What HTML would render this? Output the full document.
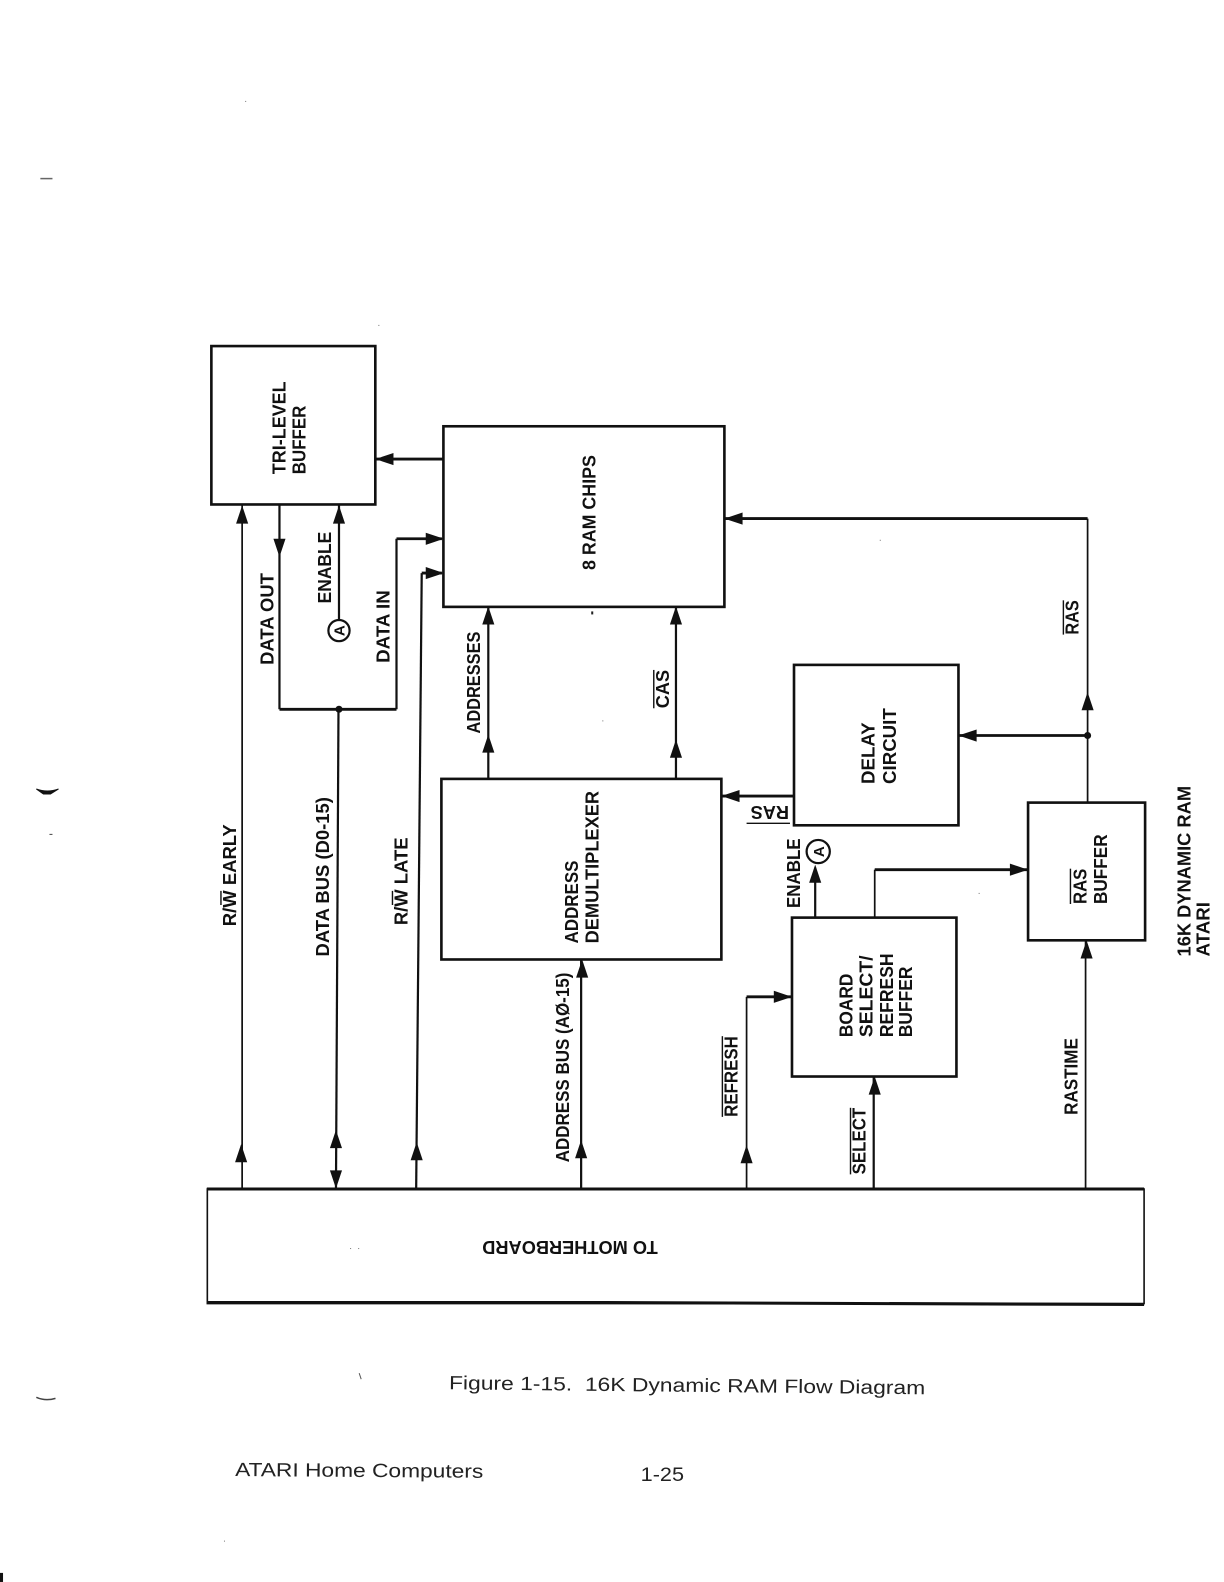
<!DOCTYPE html>
<html><head><meta charset="utf-8"><style>
html,body{margin:0;padding:0;background:#fff}
svg{display:block}
.t{font-family:"Liberation Sans",sans-serif;font-weight:bold;font-size:18px;fill:#111}
.c{font-family:"Liberation Sans",sans-serif;font-size:19px;fill:#222}
.b{fill:none;stroke:#111;stroke-width:2.6}
.l{fill:none;stroke:#111;stroke-width:2.2}
.h{fill:none;stroke:#111;stroke-width:2.8}
.n{fill:none;stroke:#111;stroke-width:1.7}
.o{stroke:#111;stroke-width:1.4}
</style></head><body>
<svg xmlns="http://www.w3.org/2000/svg" width="1224" height="1582" viewBox="0 0 1213.2 1568">
<defs>
<polygon id="u" points="0,0 -6,18 6,18" fill="#111"/>
<polygon id="d" points="0,0 -6,-18 6,-18" fill="#111"/>
<polygon id="a" points="0,0 18,-6 18,6" fill="#111"/>
<polygon id="r" points="0,0 -18,-6 -18,6" fill="#111"/>
</defs>
<rect width="1214" height="1568" fill="#fff"/>

<!-- boxes -->
<rect class="b" x="209.500" y="343" width="162.500" height="157"/>
<rect class="b" x="439.500" y="422.500" width="278.500" height="179"/>
<rect class="b" x="437.500" y="772" width="277.500" height="179"/>
<rect class="b" x="787" y="659" width="163" height="159"/>
<rect class="b" x="785" y="909.500" width="163" height="157.500"/>
<rect class="b" x="1019" y="795.500" width="116" height="136.500"/>
<path d="M205.500 1178.500H1134V1292H205.500Z" fill="none" stroke="#111" stroke-width="1.600"/>
<path d="M205 1178.500H1134M205 1291H600L1134 1293" fill="none" stroke="#111" stroke-width="3"/>

<!-- connectors -->
<path class="n" d="M240 1178V500"/>
<use href="#u" x="240" y="501"/><use href="#u" x="239" y="1134"/>
<path class="l" d="M277 500V703"/>
<path class="h" d="M277 703H393"/>
<path class="l" d="M393 703V534"/>
<path class="h" d="M393 534H438"/>
<use href="#d" x="277" y="552"/><use href="#r" x="440" y="534"/>
<circle cx="336" cy="703" r="3.500" fill="#111"/>
<path class="l" d="M335.500 703L333 1178"/>
<use href="#u" x="333" y="1120"/><use href="#d" x="333" y="1178"/>
<path class="l" d="M336 614V500"/>
<use href="#u" x="336" y="501"/>
<circle cx="336" cy="625" r="10.500" fill="#fff" stroke="#111" stroke-width="2.200"/>
<text class="t" style="font-size:15px" x="330.500" y="630.500" transform="rotate(-90 336 625)">A</text>
<path class="l" d="M412.500 1178L418 568"/>
<path class="h" d="M418 568H438"/>
<use href="#u" x="413" y="1132"/><use href="#r" x="440" y="568"/>
<path class="h" d="M440 455H373"/>
<use href="#a" x="372" y="455"/>
<path class="l" d="M484 772V601"/>
<use href="#u" x="484" y="601"/><use href="#u" x="484" y="728"/>
<path class="l" d="M670 772V601"/>
<use href="#u" x="670" y="601"/><use href="#u" x="670" y="733"/>
<path class="n" d="M1078 795V514"/>
<path class="h" d="M1078 514H719"/>
<use href="#a" x="718" y="514"/><use href="#u" x="1078" y="686"/>
<path class="h" d="M1078 729H951"/>
<circle cx="1078" cy="729" r="3.500" fill="#111"/>
<use href="#a" x="950" y="729"/>
<path class="h" d="M787 789H716"/>
<use href="#a" x="715" y="789"/>
<path class="l" d="M808 909V860"/>
<use href="#u" x="808" y="857"/>
<circle cx="811" cy="844" r="11.500" fill="#fff" stroke="#111" stroke-width="2.200"/>
<text class="t" style="font-size:15px" x="805.500" y="849.500" transform="rotate(-90 811 844)">A</text>
<path class="n" d="M867 909V862"/>
<path class="h" d="M867 862H1018"/>
<use href="#r" x="1019" y="862"/>
<path class="n" d="M740 1178V988"/>
<path class="h" d="M740 988H784"/>
<use href="#r" x="785" y="988"/><use href="#u" x="740" y="1135"/>
<path class="l" d="M866 1178V1068"/>
<use href="#u" x="867" y="1067"/>
<path class="l" d="M576 1178V952"/>
<use href="#u" x="577" y="951"/><use href="#u" x="576" y="1130"/>
<path class="n" d="M1076 1178V933"/>
<use href="#u" x="1077" y="932"/>

<!-- rotated labels -->
<text class="t" transform="translate(283,470) rotate(-90)" textLength="92" lengthAdjust="spacingAndGlyphs">TRI-LEVEL</text>
<text class="t" transform="translate(303,470) rotate(-90)" textLength="68" lengthAdjust="spacingAndGlyphs">BUFFER</text>
<text class="t" transform="translate(590,565) rotate(-90)" textLength="114" lengthAdjust="spacingAndGlyphs">8 RAM CHIPS</text>
<text class="t" transform="translate(328,598) rotate(-90)" textLength="71" lengthAdjust="spacingAndGlyphs">ENABLE</text>
<text class="t" transform="translate(271,659) rotate(-90)" textLength="91" lengthAdjust="spacingAndGlyphs">DATA OUT</text>
<text class="t" transform="translate(386,657) rotate(-90)" textLength="72" lengthAdjust="spacingAndGlyphs">DATA IN</text>
<text class="t" transform="translate(476,727) rotate(-90)" textLength="101" lengthAdjust="spacingAndGlyphs">ADDRESSES</text>
<text class="t" transform="translate(663,702) rotate(-90)" textLength="38" lengthAdjust="spacingAndGlyphs">CAS</text>
<path class="o" d="M648 702V664"/>
<text class="t" transform="translate(234,918) rotate(-90)" textLength="101" lengthAdjust="spacingAndGlyphs">R/W EARLY</text>
<path class="o" d="M219 897V883"/>
<text class="t" transform="translate(326,948) rotate(-90)" textLength="158" lengthAdjust="spacingAndGlyphs">DATA BUS (D0-15)</text>
<text class="t" transform="translate(404,917) rotate(-90)" textLength="87" lengthAdjust="spacingAndGlyphs">R/W LATE</text>
<path class="o" d="M389 897V883"/>
<text class="t" transform="translate(573,935) rotate(-90)" textLength="82" lengthAdjust="spacingAndGlyphs">ADDRESS</text>
<text class="t" transform="translate(593,935) rotate(-90)" textLength="151" lengthAdjust="spacingAndGlyphs">DEMULTIPLEXER</text>
<text class="t" transform="translate(564,1152) rotate(-90)" textLength="188" lengthAdjust="spacingAndGlyphs">ADDRESS BUS (AØ-15)</text>
<text class="t" transform="translate(867,777) rotate(-90)" textLength="61" lengthAdjust="spacingAndGlyphs">DELAY</text>
<text class="t" transform="translate(888,777) rotate(-90)" textLength="75" lengthAdjust="spacingAndGlyphs">CIRCUIT</text>
<text class="t" transform="translate(782,799) rotate(180)" textLength="38" lengthAdjust="spacingAndGlyphs">RAS</text>
<path class="o" d="M740 816H783"/>
<text class="t" transform="translate(793,900) rotate(-90)" textLength="69" lengthAdjust="spacingAndGlyphs">ENABLE</text>
<text class="t" transform="translate(845,1028) rotate(-90)" textLength="63" lengthAdjust="spacingAndGlyphs">BOARD</text>
<text class="t" transform="translate(865,1028) rotate(-90)" textLength="81" lengthAdjust="spacingAndGlyphs">SELECT/</text>
<text class="t" transform="translate(885,1028) rotate(-90)" textLength="83" lengthAdjust="spacingAndGlyphs">REFRESH</text>
<text class="t" transform="translate(904,1028) rotate(-90)" textLength="70" lengthAdjust="spacingAndGlyphs">BUFFER</text>
<text class="t" transform="translate(731,1107) rotate(-90)" textLength="80" lengthAdjust="spacingAndGlyphs">REFRESH</text>
<path class="o" d="M716 1107V1027"/>
<text class="t" transform="translate(858,1164) rotate(-90)" textLength="66" lengthAdjust="spacingAndGlyphs">SELECT</text>
<path class="o" d="M843 1164V1098"/>
<text class="t" transform="translate(1068,1105) rotate(-90)" textLength="76" lengthAdjust="spacingAndGlyphs">RASTIME</text>
<text class="t" transform="translate(1077,896) rotate(-90)" textLength="35" lengthAdjust="spacingAndGlyphs">RAS</text>
<path class="o" d="M1061 896V861"/>
<text class="t" transform="translate(1097,896) rotate(-90)" textLength="69" lengthAdjust="spacingAndGlyphs">BUFFER</text>
<text class="t" transform="translate(1069,629) rotate(-90)" textLength="34" lengthAdjust="spacingAndGlyphs">RAS</text>
<path class="o" d="M1054 629V595"/>
<text class="t" transform="translate(1180,948) rotate(-90)" textLength="169" lengthAdjust="spacingAndGlyphs">16K DYNAMIC RAM</text>
<text class="t" transform="translate(1199,948) rotate(-90)" textLength="54" lengthAdjust="spacingAndGlyphs">ATARI</text>
<text class="t" transform="translate(652,1230) rotate(180)" textLength="174" lengthAdjust="spacingAndGlyphs">TO MOTHERBOARD</text>

<!-- captions -->
<text class="c" transform="translate(445,1377) rotate(0.6)" textLength="472" lengthAdjust="spacingAndGlyphs">Figure 1-15. &#160;16K Dynamic RAM Flow Diagram</text>
<text class="c" transform="translate(233,1463) rotate(0.4)" textLength="246" lengthAdjust="spacingAndGlyphs">ATARI Home Computers</text>
<text class="c" transform="translate(635,1468)" textLength="43" lengthAdjust="spacingAndGlyphs">1-25</text>

<!-- scan specks -->
<path d="M40 177H52" stroke="#666" stroke-width="1.500"/>
<path d="M36 782Q47 786 58 782L50 787H43Z" fill="#111" stroke="#111"/>
<path d="M49 827h3" stroke="#444" stroke-width="1"/>
<path d="M36 1385Q45 1389 55 1386" fill="none" stroke="#444" stroke-width="1.500"/>
<path d="M0 1559h3v9H0Z" fill="#111"/>
<g fill="#777">
<rect x="243" y="100" width="1" height="1"/><rect x="375" y="322" width="1" height="1"/>
<rect x="222" y="1527" width="1" height="1"/><rect x="872" y="535" width="1" height="1"/>
<rect x="597" y="714" width="1" height="1"/><rect x="970" y="885" width="1" height="1"/>
<rect x="347" y="1237" width="1" height="1"/><rect x="355" y="1237" width="1" height="1"/>
</g>
<rect x="586" y="606" width="2" height="3" fill="#222"/>
<path d="M356 1361l2 6" stroke="#555" stroke-width="1"/>
</svg>
</body></html>
